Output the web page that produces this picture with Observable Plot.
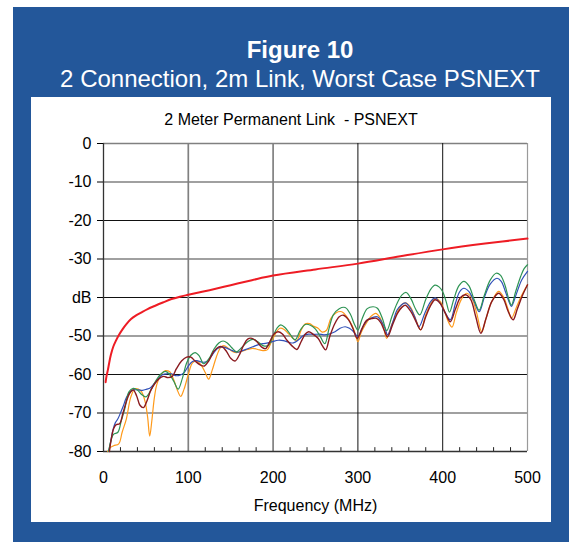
<!DOCTYPE html>
<html>
<head>
<meta charset="utf-8">
<script src="https://cdn.jsdelivr.net/npm/d3@7"></script>
<script src="https://cdn.jsdelivr.net/npm/@observablehq/plot@0.6"></script>
<style>
  body { margin: 0; background: #fff; font-family: "Liberation Sans", Arial, sans-serif; }
  #page { position: relative; width: 569px; height: 542px; overflow: hidden; }
  #blue { position: absolute; left: 13px; top: 7px; width: 556px; height: 535px; background: #23579a; }
  .t { position: absolute; left: 0; width: 600px; text-align: center; color: #fff; font-size: 24px; line-height: 24px; white-space: pre; }
  #panel { position: absolute; left: 31px; top: 97px; width: 520px; height: 425px; background: #fff; }
  #ctitle { position: absolute; left: 0; width: 520px; top: 15.3px; text-align: center; font-size: 16px; line-height: 16px; color: #000; white-space: pre; }
  #chart { position: absolute; left: 0; top: 33px; }
</style>
</head>
<body>
<div id="page">
  <div id="blue"></div>
  <div class="t" style="top:37.7px;font-weight:bold;">Figure 10</div>
  <div class="t" style="top:66.7px;">2 Connection, 2m Link, Worst Case PSNEXT</div>
  <div id="panel">
    <div id="ctitle"></div>
    <div id="chart"></div>
  </div>
</div>
<script>
// ---- Data (frequency MHz, dB) ----
const chartTitle = "2 Meter Permanent Link  - PSNEXT";
const xTicks = [0, 100, 200, 300, 400, 500];
const xMinorTicks = [20, 40, 60, 80, 120, 140, 160, 180, 220, 240, 260, 280, 320, 340, 360, 380, 420, 440, 460, 480];
const yTicks = [0, -10, -20, -30, -40, -50, -60, -70, -80];
const yGridGray = [0, -10, -30, -50, -70];
const yGridDark = [-20, -40, -60];
const xGridGray = [100, 200];
const xGridDark = [300, 400];
const yAxisName = "dB";
const xAxisName = "Frequency (MHz)";

const limitLine = [[2.5,-62],[3.5,-60.5],[5,-59],[6.7,-57],[8.7,-54.9],[11.5,-52.8],[14.7,-51.2],[18,-49.8],[22.6,-48.2],[27,-46.9],[32.5,-45.6],[38,-44.7],[44.4,-43.9],[52,-43],[60.3,-42.2],[70,-41.3],[80.2,-40.4],[90,-39.8],[100,-39.3],[125,-38.1],[150,-36.8],[175,-35.5],[200,-34.3],[250,-32.7],[300,-31.2],[350,-29.3],[400,-27.5],[450,-26],[500,-24.7]];

const green = [[6,-80],[9,-77],[12,-75.5],[17,-75],[21,-72],[25,-69],[30,-64.5],[35,-63.6],[40,-64],[45,-65.2],[50,-65.8],[56,-64],[62,-61.5],[68,-59.8],[73,-59.2],[78,-60],[83,-61.8],[88,-63.8],[93,-61],[98,-57],[103,-55],[108,-54.3],[113,-55.2],[118,-57.2],[124,-56],[130,-53.5],[136,-51.8],[141,-51.3],[146,-51.8],[151,-53],[157,-54.1],[163,-53],[170,-51.5],[176,-50.9],[182,-51.5],[188,-52.5],[194,-52.5],[200,-50],[205,-47.8],[209,-47.1],[214,-47.8],[220,-49.5],[226,-51],[232,-48.5],[238,-47],[244,-47.2],[250,-48.2],[256,-50.3],[261,-52],[266,-48],[271,-44.5],[278,-42.9],[285,-42.6],[291,-44.3],[296,-47],[300,-48.5],[305,-45.5],[311,-42.9],[318,-42.4],[323,-42.8],[329,-45.5],[334,-48.6],[340,-45],[346,-41.6],[352,-39.3],[357,-38.7],[363,-40.5],[368,-43],[373,-44.5],[380,-40.5],[386,-37.8],[391,-36.8],[396,-37.3],[400,-38.5],[404,-41],[408,-43.8],[413,-40.5],[419,-37],[425,-35.8],[431,-37],[437,-40.5],[443,-43.3],[449,-39.5],[456,-35.5],[463,-33.7],[468,-34.2],[473,-36.5],[478,-40.5],[481,-42],[486,-38.5],[492,-34.5],[496,-32.5],[500,-31.5]];

const blue = [[6,-80],[8,-78],[11,-74.5],[14,-72.5],[17,-71.5],[20,-70],[23,-68.4],[27,-66],[31,-64.6],[36,-64],[41,-64],[46,-64.1],[51,-63.8],[55,-63.5],[60,-62.3],[65,-61],[70,-60],[75,-59.8],[80,-59.8],[85,-60.3],[90,-60.2],[95,-59.5],[100,-57.8],[105,-56.6],[110,-56.4],[116,-56.8],[122,-56.6],[128,-55],[134,-53.3],[140,-52.8],[146,-53.2],[152,-53.8],[158,-54.2],[164,-53.8],[170,-53.3],[176,-52.8],[182,-52.3],[188,-52],[194,-51.8],[200,-51.4],[206,-51.1],[212,-51.2],[218,-51.6],[224,-51.8],[230,-51],[236,-49.8],[242,-49.5],[248,-49.6],[254,-49.5],[260,-49.7],[266,-49.5],[273,-48.9],[279,-48],[285,-47.6],[290,-48],[295,-48.9],[300,-50.2],[305,-48],[311,-45.9],[317,-45.2],[323,-45],[328,-46.3],[332,-48],[335,-49.7],[341,-46.5],[346,-43.3],[351,-42],[356,-41.4],[362,-42.8],[367,-45],[372,-47.6],[379,-44],[386,-41],[391,-40.1],[397,-41.5],[403,-44],[409,-45.8],[415,-41.5],[420,-38.5],[425,-37.6],[431,-38.5],[437,-41],[443,-43.7],[449,-40],[456,-36.5],[464,-35],[469,-35.8],[474,-38.5],[478,-41],[481,-42.3],[487,-39],[493,-35.5],[500,-33.2]];

const orange = [[5,-80],[8,-79],[12,-78.5],[18,-78],[22,-75],[27,-71.5],[32,-66],[37,-63.7],[41,-63.8],[45,-64.5],[49,-67],[52,-71],[54.5,-76],[57,-72],[60,-66],[63,-62.5],[68,-60],[73,-59],[78,-59.3],[83,-61.5],[87,-64],[91,-65.7],[95,-63.8],[100,-60],[105,-57],[110,-56.5],[115,-57.5],[120,-59.5],[124,-61.2],[128,-59],[133,-55.5],[138,-53],[142,-52.5],[147,-53.2],[152,-54],[157,-54.3],[163,-54],[170,-53.5],[176,-53.2],[182,-53.5],[188,-53.8],[193,-53.6],[198,-51.5],[203,-49.3],[208,-48],[213,-48.3],[218,-49.4],[223,-50.5],[228,-51.2],[233,-48.5],[238,-46.8],[243,-46.8],[248,-47.5],[253,-48],[258,-49],[263,-48.5],[268,-45.5],[274,-44],[281,-43.7],[287,-45],[293,-47.2],[297,-49.5],[300,-51.5],[304,-49],[309,-47],[315,-45],[321,-44.1],[326,-45.2],[330,-47.5],[334,-50.6],[340,-47],[346,-44],[351,-42],[356,-41.4],[362,-42.5],[368,-45.5],[374,-48.4],[380,-44.5],[386,-41.5],[391,-40.2],[397,-41],[402,-43.5],[407,-46.5],[411,-47.7],[416,-44],[422,-40.5],[428,-38.9],[434,-40],[440,-44],[446,-48.9],[451,-45.5],[458,-41],[466,-38.4],[472,-40],[477,-43],[481,-45.4],[487,-42.5],[493,-39.5],[500,-36.7]];

const maroon = [[7,-80],[9,-77],[12,-74],[15,-73],[19,-72.8],[23,-70],[27,-67],[31,-64.8],[35,-64],[39,-65.5],[43,-68],[47,-68.6],[51,-67],[56,-64],[61,-62.2],[66,-61],[71,-60.5],[76,-60.8],[81,-60.5],[86,-58.5],[92,-56.5],[98,-55.5],[103,-55.5],[108,-56.5],[114,-57.5],[119,-57.8],[124,-56.5],[130,-54],[136,-52.8],[140,-52.8],[145,-54],[150,-55.8],[155,-56.5],[160,-55],[165,-52.5],[170,-50.8],[175,-50.6],[181,-51.5],[186,-52.8],[191,-53.3],[196,-51.5],[201,-49.5],[206,-48.9],[211,-49.5],[216,-51],[222,-52.5],[228,-53.5],[233,-51.5],[238,-49.5],[242,-48.9],[247,-49.5],[253,-50.6],[258,-52.5],[262,-53.6],[267,-50],[273,-46.7],[278,-45],[283,-44.6],[289,-45.8],[294,-48],[299,-50.6],[305,-48],[310,-46],[316,-45.5],[322,-45.4],[327,-46.5],[331,-48.5],[335,-50.2],[341,-47],[347,-44],[352,-42.5],[356,-42],[362,-43.5],[368,-46],[374,-48.4],[380,-45],[386,-42],[391,-40.6],[397,-41.5],[403,-44],[409,-46.3],[415,-43],[421,-40],[427,-39.3],[433,-40.5],[439,-45],[445,-49.3],[451,-45.5],[458,-41],[466,-38.9],[472,-40.5],[477,-43.5],[483,-45.8],[488,-43],[494,-39.5],[500,-36.7]];

const seriesColors = { limit: "#ee1c24", green: "#2e9454", blue: "#3050b8", orange: "#ff9a1a", maroon: "#8a1a1f" };

document.getElementById("ctitle").textContent = chartTitle;

const lineOpts = (color, w) => ({ x: d => d[0], y: d => d[1], stroke: color, strokeWidth: w, curve: "catmull-rom" });

const chart = Plot.plot({
  width: 520,
  height: 392,
  marginLeft: 72,
  marginRight: 24,
  marginTop: 13,
  marginBottom: 71,
  style: { fontFamily: "'Liberation Sans', Arial, sans-serif", fontSize: "16px", color: "#000", background: "transparent" },
  x: { domain: [0, 500] },
  y: { domain: [-80, 0] },
  marks: [
    Plot.gridY(yGridGray, { stroke: "#808080", strokeOpacity: 1, strokeWidth: 1.7 }),
    Plot.gridY(yGridDark, { stroke: "#111", strokeOpacity: 1, strokeWidth: 1 }),
    Plot.gridX(xGridGray, { stroke: "#808080", strokeOpacity: 1, strokeWidth: 1.7 }),
    Plot.gridX(xGridDark, { stroke: "#111", strokeOpacity: 1, strokeWidth: 1 }),
    Plot.ruleX([500], { stroke: "#9a9a9a", strokeWidth: 1.2 }),
    Plot.ruleX(xMinorTicks, { y1: -80, y2: -79, stroke: "#222" }),
    Plot.ruleX([0], { stroke: "#333", strokeWidth: 1.3 }),
    Plot.ruleY([-80], { stroke: "#333", strokeWidth: 1.3 }),
    Plot.axisY(yTicks, { tickSize: 6, tickPadding: 6, tickFormat: d => d === -40 ? yAxisName : String(d), label: null, fontSize: "16px" }),
    Plot.axisX(xTicks, { tickSize: 0, tickPadding: 20, tickFormat: d => String(d), label: null, fontSize: "16px" }),
    Plot.text([xAxisName], { frameAnchor: "bottom", lineAnchor: "middle", dy: 54, fontSize: "16px" }),
    Plot.line(orange, lineOpts(seriesColors.orange, 1.2)),
    Plot.line(blue, lineOpts(seriesColors.blue, 1.2)),
    Plot.line(green, lineOpts(seriesColors.green, 1.2)),
    Plot.line(maroon, lineOpts(seriesColors.maroon, 1.4)),
    Plot.line(limitLine, lineOpts(seriesColors.limit, 2))
  ]
});
document.getElementById("chart").appendChild(chart);
</script>
</body>
</html>
